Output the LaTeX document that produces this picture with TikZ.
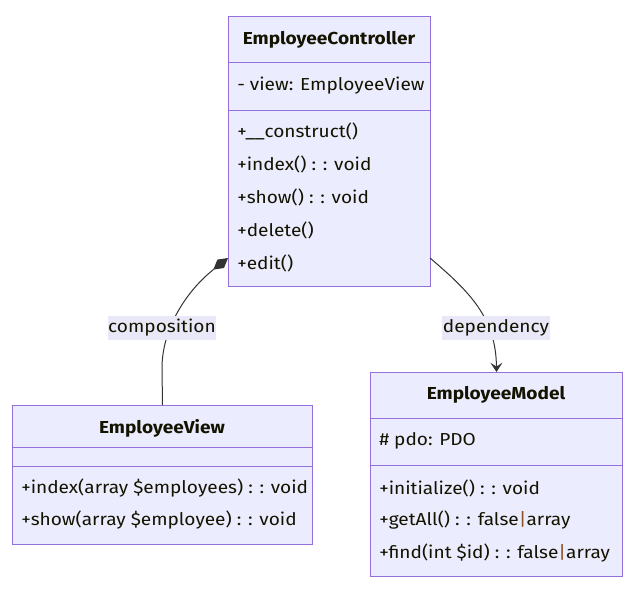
\documentclass[tikz,border=0pt]{standalone}
\usepackage{fontspec}
\setmainfont[FakeStretch=1.1]{Fira Sans}
\usepackage{xcolor}
\usetikzlibrary{arrows.meta}
\definecolor{clsfill}{HTML}{ECECFF}
\definecolor{clsline}{HTML}{9370DB}
\definecolor{edgecol}{HTML}{333333}
\definecolor{txtcol}{HTML}{131300}
\definecolor{lblfill}{HTML}{E8E8F8}
\definecolor{pipecol}{HTML}{8E4E1E}
\newcommand\orpipe{\textcolor{pipecol}{|}}

\begin{document}
\begin{tikzpicture}[
  x=0.75pt,y=-0.75pt,
  font=\fontsize{13}{15}\selectfont,
  cls/.style={draw=clsline,fill=clsfill,line width=0.75pt,inner sep=0pt,anchor=north west},
  sep/.style={draw=clsline,line width=0.75pt},
  title/.style={text=txtcol,font=\fontsize{13}{15}\selectfont\bfseries},
  member/.style={text=txtcol,anchor=west,inner sep=0pt},
  edge/.style={draw=edgecol,line width=0.75pt},
  lbl/.style={fill=lblfill,text=txtcol,inner xsep=0.5pt,inner ysep=2.5pt}
  ]
\def\u{0.75pt}
\useasboundingbox (0,0) rectangle (634,594);
% classes
\node[cls,minimum width=202*\u,minimum height=270*\u] (ctrl) at (228,16) {};
\node[cls,minimum width=300*\u,minimum height=139*\u] (view) at (12,405) {};
\node[cls,minimum width=252*\u,minimum height=204*\u] (model) at (370,372) {};
\draw[sep] (ctrl.west |- 0,62) -- (ctrl.east |- 0,62);
\draw[sep] (ctrl.west |- 0,110) -- (ctrl.east |- 0,110);
\draw[sep] (view.west |- 0,447) -- (view.east |- 0,447);
\draw[sep] (view.west |- 0,466) -- (view.east |- 0,466);
\draw[sep] (model.west |- 0,418) -- (model.east |- 0,418);
\draw[sep] (model.west |- 0,465) -- (model.east |- 0,465);
% texts
\node[title] (ctrlname) at (329,40) {EmployeeController};
\node[member] (ctrlview) at (237,86) {- view: EmployeeView};
\node[member] (ctrlm1) at (237,131) {+\_\_construct()};
\node[member] (ctrlm2) at (237,164) {+index() : : void};
\node[member] (ctrlm3) at (237,197) {+show() : : void};
\node[member] (ctrlm4) at (237,230) {+delete()};
\node[member] (ctrlm5) at (237,263) {+edit()};
\node[title] (viewname) at (162,428) {EmployeeView};
\node[member] (viewm1) at (21,488) {+index(array \$employees) : : void};
\node[member] (viewm2) at (21,520) {+show(array \$employee) : : void};
\node[title] (modelname) at (496,395) {EmployeeModel};
\node[member] (modelpdo) at (379,441) {\# pdo: PDO};
\node[member] (modelm1) at (379,488) {+initialize() : : void};
\node[member] (modelm2) at (379,520) {+getAll() : : false\orpipe array};
\node[member] (modelm3) at (379,553) {+find(int \$id) : : false\orpipe array};
% relations
\coordinate (cmp) at (228,258);
\coordinate (dep) at (430,258);
\draw[edge,{Diamond[length=14pt,width=8pt]}-] (cmp) .. controls (185,292) and (162,330) .. (162,368) -- (view.north);
\draw[edge,-{Stealth[length=7pt,width=9pt,inset=3pt]}] (dep) .. controls (470,292) and (496,318) .. (model.north);
\node[lbl] (cmplbl) at (162,328) {composition};
\node[lbl] (deplbl) at (496,328) {dependency};
\end{tikzpicture}
\end{document}
